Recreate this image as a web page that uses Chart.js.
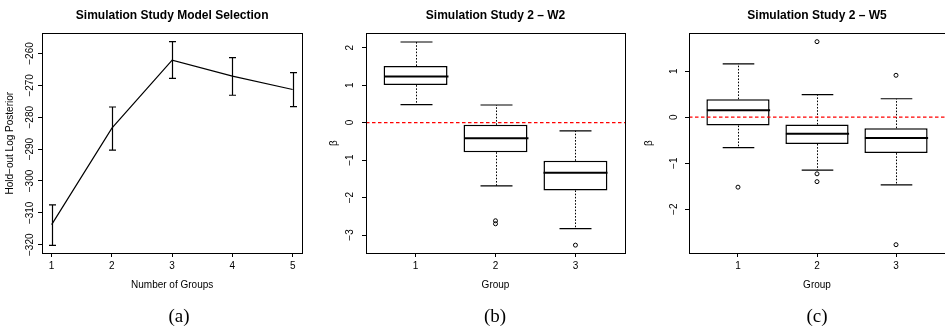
<!DOCTYPE html>
<html>
<head>
<meta charset="utf-8">
<title>Simulation study</title>
<script src="https://cdn.jsdelivr.net/npm/chart.js@4.4.1/dist/chart.umd.min.js"></script>
<style>
  html, body { margin: 0; padding: 0; background: #fff; overflow: hidden; }
  #wrap { position: relative; width: 945px; height: 330px; overflow: hidden; }
  canvas { position: absolute; top: 0; }
  .cap { position: absolute; top: 305px; width: 60px; line-height: 22px; text-align: center;
         font: 19px "Liberation Serif", "Times New Roman", serif; color: #000; }
</style>
</head>
<body>
<div id="wrap">
  <canvas id="chartA" width="315" height="330" style="left:0"></canvas>
  <canvas id="chartB" width="315" height="330" style="left:315px"></canvas>
  <canvas id="chartC" width="320" height="330" style="left:630px"></canvas>
  <div class="cap" style="left:149px">(a)</div>
  <div class="cap" style="left:465px">(b)</div>
  <div class="cap" style="left:787px">(c)</div>
</div>
<script>
// (a) hold-out log posterior by number of groups
const nGroups = [1, 2, 3, 4, 5];
const logPost = [-313.7, -283.4, -262.1, -267.1, -271.3];
const logPostLow = [-320.2, -290.3, -267.8, -273.1, -276.7];
const logPostHigh = [-307.5, -276.8, -256.3, -261.3, -266.0];
const ticksA = [-320, -310, -300, -290, -280, -270, -260];

// (b) W2 boxplots
const groups = [1, 2, 3];
const w2Min = [0.48, -1.69, -2.83];
const w2Q1 = [1.00, -0.79, -1.81];
const w2Med = [1.23, -0.42, -1.34];
const w2Q3 = [1.51, -0.06, -1.02];
const w2Max = [2.15, 0.47, -0.22];
const w2OutGroup = [2, 2, 3];
const w2OutVal = [-2.62, -2.70, -3.27];
const ticksB = [-3, -2, -1, 0, 1, 2];

// (c) W5 boxplots
const w5Min = [-0.66, -1.15, -1.47];
const w5Q1 = [-0.18, -0.58, -0.78];
const w5Med = [0.15, -0.36, -0.45];
const w5Q3 = [0.39, -0.16, -0.24];
const w5Max = [1.16, 0.49, 0.40];
const w5OutGroup = [1, 2, 2, 2, 3, 3];
const w5OutVal = [-1.52, -1.23, -1.40, 1.64, 0.91, -2.77];
const ticksC = [-2, -1, 0, 1];

const FONT = '"Liberation Sans", Arial, Helvetica, sans-serif';
const minus = v => String(v).replace('-', '\u2212');

// R style: box round the plot, y labels turned parallel to the axis
function rFrame(labelOffset) {
  return {
    id: 'rFrame',
    afterDraw(chart) {
      const { ctx, chartArea: a, scales: { y } } = chart;
      ctx.save();
      ctx.strokeStyle = '#000';
      ctx.lineWidth = 1;
      ctx.strokeRect(Math.round(a.left) + 0.5, Math.round(a.top) + 0.5,
        Math.round(a.right - a.left), Math.round(a.bottom - a.top));
      ctx.fillStyle = '#000';
      ctx.font = '10px ' + FONT;
      ctx.textAlign = 'center';
      ctx.textBaseline = 'middle';
      y.ticks.forEach(t => {
        ctx.save();
        ctx.translate(a.left - labelOffset, y.getPixelForValue(t.value));
        ctx.rotate(-Math.PI / 2);
        ctx.fillText(minus(t.value), 0, 0);
        ctx.restore();
      });
      ctx.restore();
    }
  };
}

const errorBars = {
  id: 'errorBars',
  afterDatasetsDraw(chart) {
    const { ctx, scales: { x, y } } = chart;
    ctx.save();
    ctx.strokeStyle = '#000';
    ctx.lineWidth = 1.2;
    nGroups.forEach((g, i) => {
      const px = Math.round(x.getPixelForValue(g)) + 0.5;
      const lo = y.getPixelForValue(logPostLow[i]);
      const hi = y.getPixelForValue(logPostHigh[i]);
      ctx.beginPath();
      ctx.moveTo(px, lo); ctx.lineTo(px, hi);
      ctx.moveTo(px - 3.5, lo); ctx.lineTo(px + 3.5, lo);
      ctx.moveTo(px - 3.5, hi); ctx.lineTo(px + 3.5, hi);
      ctx.stroke();
    });
    ctx.restore();
  }
};

// whiskers, staples, medians and the zero line for a boxplot panel
function boxParts(lo, med, hi, q1, q3) {
  return {
    id: 'boxParts',
    afterDatasetsDraw(chart) {
      const { ctx, chartArea: a, scales: { y } } = chart;
      const bars = chart.getDatasetMeta(0).data;
      ctx.save();
      ctx.strokeStyle = '#000';
      bars.forEach((bar, i) => {
        const px = Math.round(bar.x) + 0.5;
        const w = bar.width;
        ctx.lineWidth = 1;
        ctx.setLineDash([1.6, 1.6]);
        ctx.beginPath();
        ctx.moveTo(px, y.getPixelForValue(q3[i])); ctx.lineTo(px, y.getPixelForValue(hi[i]));
        ctx.moveTo(px, y.getPixelForValue(q1[i])); ctx.lineTo(px, y.getPixelForValue(lo[i]));
        ctx.stroke();
        ctx.setLineDash([]);
        ctx.lineWidth = 1.2;
        ctx.beginPath();
        ctx.moveTo(px - w / 4, y.getPixelForValue(hi[i])); ctx.lineTo(px + w / 4, y.getPixelForValue(hi[i]));
        ctx.moveTo(px - w / 4, y.getPixelForValue(lo[i])); ctx.lineTo(px + w / 4, y.getPixelForValue(lo[i]));
        ctx.stroke();
        ctx.lineWidth = 2;
        ctx.beginPath();
        ctx.moveTo(px - w / 2, y.getPixelForValue(med[i])); ctx.lineTo(px + w / 2, y.getPixelForValue(med[i]));
        ctx.stroke();
      });
      const y0 = y.getPixelForValue(0);
      ctx.strokeStyle = '#ff0000';
      ctx.lineWidth = 1.2;
      ctx.setLineDash([3.5, 2.5]);
      ctx.beginPath();
      ctx.moveTo(a.left, y0); ctx.lineTo(a.right, y0);
      ctx.stroke();
      ctx.restore();
    }
  };
}

const tickMarks = { display: true, drawOnChartArea: false, drawTicks: true, tickLength: 4, color: '#000', lineWidth: 1 };

function baseOptions(title, xTitle, yTitle, yPad, left, right, xTicks, xMin, xMax, yTicks, yMin, yMax) {
  return {
    responsive: false,
    animation: false,
    layout: { padding: { left: 0, right: right, top: 0, bottom: 37 } },
    plugins: {
      legend: { display: false },
      tooltip: { enabled: false },
      title: {
        display: true, text: title, fullSize: false, color: '#000',
        font: { family: FONT, size: 12, weight: 'bold' },
        padding: { top: 8, bottom: 11 }
      }
    },
    scales: {
      x: {
        type: 'linear', min: xMin, max: xMax, offset: false,
        afterBuildTicks: s => { s.ticks = xTicks.map(v => ({ value: v })); },
        afterFit: s => { s.height = 40; },
        grid: { ...tickMarks, offset: false },
        border: { display: false },
        ticks: { color: '#000', font: { family: FONT, size: 10 }, padding: 3, maxRotation: 0 },
        title: { display: true, text: xTitle, color: '#000', font: { family: FONT, size: 10 }, padding: { top: 0, bottom: 2 } }
      },
      y: {
        type: 'linear', min: yMin, max: yMax,
        afterBuildTicks: s => { s.ticks = yTicks.map(v => ({ value: v })); },
        afterFit: s => { s.width = left; },
        grid: tickMarks,
        border: { display: false },
        ticks: { display: false },
        title: { display: true, text: yTitle, color: '#000', font: { family: FONT, size: 10 }, padding: { top: yPad, bottom: 0 } }
      }
    }
  };
}

new Chart(document.getElementById('chartA'), {
  type: 'line',
  data: {
    datasets: [{
      data: nGroups.map((g, i) => ({ x: g, y: logPost[i] })),
      borderColor: '#000', borderWidth: 1.2, pointRadius: 0, tension: 0, fill: false
    }]
  },
  options: baseOptions('Simulation Study Model Selection', 'Number of Groups', 'Hold\u2212out Log Posterior',
    4, 42, 12.7, nGroups, 0.84, 5.16, ticksA, -322.6, -253.7),
  plugins: [errorBars, rFrame(11.5)]
});

function boxChart(id, title, q1, med, q3, lo, hi, outG, outV, yTicks, yMin, yMax, left, right, labelOffset) {
  return new Chart(document.getElementById(id), {
    type: 'bar',
    data: {
      datasets: [
        {
          type: 'bar',
          data: groups.map((g, i) => ({ x: g, y: [q1[i], q3[i]] })),
          backgroundColor: '#fff', borderColor: '#000', borderWidth: 1.5, borderSkipped: false,
          categoryPercentage: 1, barPercentage: 0.8
        },
        {
          type: 'scatter',
          data: outG.map((g, i) => ({ x: g, y: outV[i] })),
          pointStyle: 'circle', pointRadius: 2, borderWidth: 1,
          borderColor: '#000', backgroundColor: 'rgba(0,0,0,0)', showLine: false
        }
      ]
    },
    options: baseOptions(title, 'Group', '\u03B2', 13, left, right, groups, 0.38, 3.62, yTicks, yMin, yMax),
    plugins: [boxParts(lo, med, hi, q1, q3), rFrame(labelOffset)]
  });
}

boxChart('chartB', 'Simulation Study 2 \u2013 W2', w2Q1, w2Med, w2Q3, w2Min, w2Max,
  w2OutGroup, w2OutVal, ticksB, -3.48, 2.38, 51, 4, 16);
boxChart('chartC', 'Simulation Study 2 \u2013 W5', w5Q1, w5Med, w5Q3, w5Min, w5Max,
  w5OutGroup, w5OutVal, ticksC, -2.95, 1.82, 59, 2, 15);
</script>
</body>
</html>
